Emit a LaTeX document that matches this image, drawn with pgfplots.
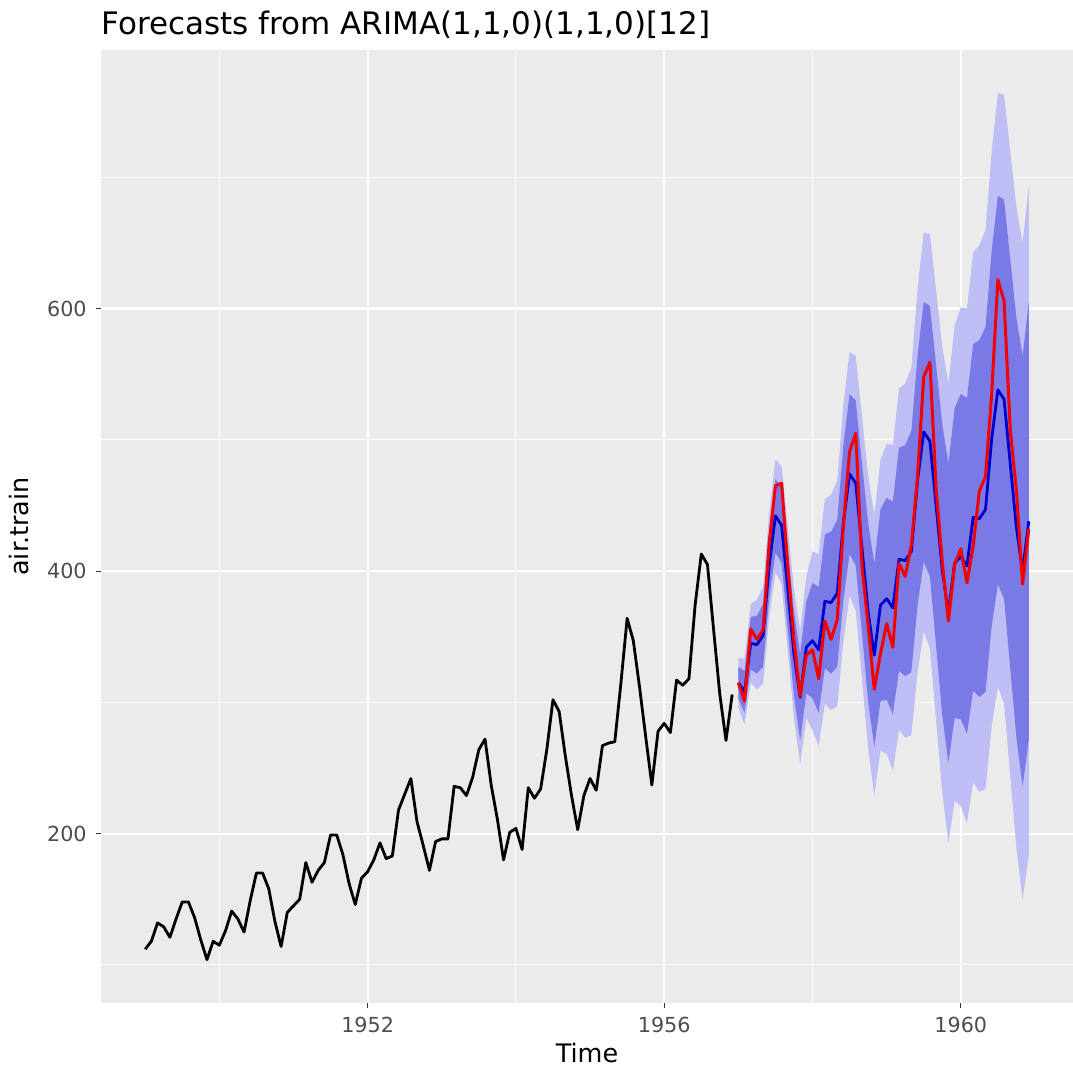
\documentclass[border=0pt]{standalone}
\usepackage{fontspec}
\setmainfont{DejaVu Sans}
\usepackage{pgfplots}
\usepackage{pgfplotstable}
\pgfplotsset{compat=1.18}
\usepgfplotslibrary{fillbetween}
\definecolor{panelbg}{RGB}{235,235,235}
\definecolor{gray30}{RGB}{77,77,77}
\definecolor{gray20}{RGB}{51,51,51}
\definecolor{bandlight}{RGB}{190,190,244}
\definecolor{banddark}{RGB}{122,122,231}
\definecolor{fcblue}{RGB}{0,0,205}
\definecolor{actred}{RGB}{245,0,0}

% training data 1949-1956 (monthly)
\pgfplotstableread{
y
112
118
132
129
121
135
148
148
136
119
104
118
115
126
141
135
125
149
170
170
158
133
114
140
145
150
178
163
172
178
199
199
184
162
146
166
171
180
193
181
183
218
230
242
209
191
172
194
196
196
236
235
229
243
264
272
237
211
180
201
204
188
235
227
234
264
302
293
259
229
203
229
242
233
267
269
270
315
364
347
312
274
237
278
284
277
317
313
318
374
413
405
355
306
271
306
}\train

% actual test data 1957-1960
\pgfplotstableread{
y
315
301
356
348
355
422
465
467
404
347
305
336
340
318
362
348
363
435
491
505
404
359
310
337
360
342
406
396
420
472
548
559
463
407
362
405
417
391
419
461
472
535
622
606
508
461
390
432
}\test

% forecast with 80% and 95% intervals, 1957-1960
\pgfplotstableread{
f   l95 l80 u80 u95
315 296 303 327 334
308 283 292 324 333
345 315 325 365 375
344 310 322 366 378
351 314 327 375 388
405 365 379 431 445
442 399 414 470 485
435 390 406 464 480
386 339 355 417 433
337 288 305 369 386
304 253 271 337 355
342 288 307 377 396
347 279 303 391 415
340 267 292 388 413
377 299 326 428 455
376 294 322 430 458
383 297 327 439 469
437 347 378 496 527
474 381 413 535 567
467 370 404 530 564
418 318 353 483 518
369 265 301 437 473
336 229 266 406 443
374 263 301 447 485
379 261 302 456 497
372 248 291 453 496
409 279 324 494 539
408 273 320 496 543
415 275 323 507 555
469 323 374 564 615
506 354 407 605 658
499 341 396 602 657
450 286 343 557 614
401 231 290 512 571
368 193 254 482 543
406 225 288 524 587
411 221 287 535 601
404 208 276 532 600
441 239 309 573 643
440 232 304 576 648
447 234 308 586 660
501 282 358 644 720
538 312 390 686 764
531 299 379 683 763
482 244 326 638 720
433 189 273 593 677
400 150 236 564 650
438 183 271 605 693
}\fc

\begin{document}
\begin{tikzpicture}
\begin{axis}[
  at={(0,0)}, anchor=south west,
  scale only axis,
  width=486pt, height=476.5pt,
  xmin=1948.404, xmax=1961.513,
  ymin=71, ymax=797,
  axis background/.style={fill=panelbg},
  axis x line*=bottom, axis y line*=left,
  axis line style={draw=none},
  xtick={1952,1956,1960}, xticklabels={1952,1956,1960},
  minor xtick={1950,1954,1958},
  ytick={200,400,600}, yticklabels={200,400,600},
  minor ytick={100,300,500,700},
  grid=both,
  major grid style={white, line width=1.1pt},
  minor grid style={white, line width=0.55pt},
  tick align=outside,
  major tick length=2.5pt, minor tick length=0pt,
  tick style={gray20, line width=0.6pt},
  tick label style={font=\fontsize{10.35}{12}\selectfont, text=gray30},
  xticklabel style={anchor=north, inner sep=0pt, yshift=-4.5pt},
  yticklabel style={anchor=east, inner sep=0pt, xshift=-4.5pt},
  every axis title shift=0pt,
  title={Forecasts from ARIMA(1,1,0)(1,1,0)[12]},
  title style={at={(axis description cs:0,1.01574)}, anchor=base west, inner sep=0pt, font=\fontsize{15.5}{18}\selectfont},
  xlabel={Time},
  xlabel style={at={(axis description cs:0.5,-0.0625)}, anchor=base, inner sep=0pt, font=\fontsize{12.75}{15}\selectfont},
  ylabel={air.train},
  ylabel style={at={(axis description cs:-0.0746,0.5)}, anchor=base, rotate=0, inner sep=0pt, font=\fontsize{12.75}{15}\selectfont},
  clip=true,
]
\addplot[name path=u95, draw=none, forget plot] table[x expr=1957+\coordindex/12, y=u95]{\fc};
\addplot[name path=l95, draw=none, forget plot] table[x expr=1957+\coordindex/12, y=l95]{\fc};
\addplot[fill=bandlight, draw=none, forget plot] fill between[of=u95 and l95];
\addplot[name path=u80, draw=none, forget plot] table[x expr=1957+\coordindex/12, y=u80]{\fc};
\addplot[name path=l80, draw=none, forget plot] table[x expr=1957+\coordindex/12, y=l80]{\fc};
\addplot[fill=banddark, draw=none, forget plot] fill between[of=u80 and l80];
\addplot[black, line width=1.4pt, line join=round] table[x expr=1949+\coordindex/12, y=y]{\train};
\addplot[fcblue, line width=1.4pt, line join=round] table[x expr=1957+\coordindex/12, y=f]{\fc};
\addplot[actred, line width=1.5pt, line join=round] table[x expr=1957+\coordindex/12, y=y]{\test};
\end{axis}
\pgfresetboundingbox
\path[use as bounding box] (-50.5pt,-32.5pt) rectangle (486pt,501.5pt);
\end{tikzpicture}
\end{document}
